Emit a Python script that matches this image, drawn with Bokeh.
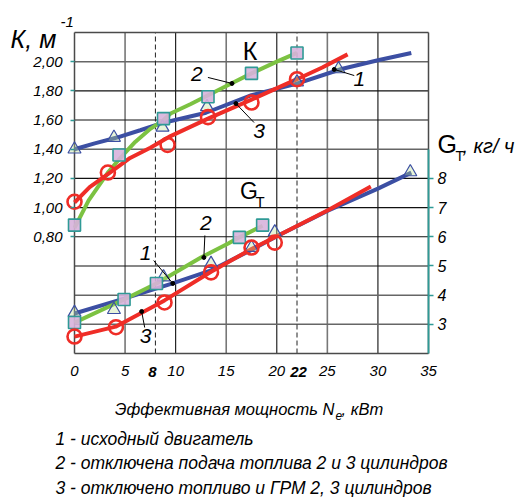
from bokeh.plotting import figure
from bokeh.models import Range1d, LinearAxis, FixedTicker, CustomJSTickFormatter, Label
from bokeh.embed import file_html
from bokeh.resources import INLINE

# ---------------- data ----------------
# K curves (left axis, 1/m)
k1_pts_x = [0, 3.9, 8.7, 13.1, 22, 26.1]
k1_pts_y = [1.40, 1.48, 1.55, 1.69, 1.86, 1.95]
k1_line_x = [0, 2, 4.2, 6.5, 8.7, 13, 17.5, 22, 26.4, 30, 33.3]
k1_line_y = [1.40, 1.44, 1.48, 1.53, 1.58, 1.65, 1.77, 1.85, 1.95, 2.01, 2.06]

k2_pts_x = [0, 4.4, 8.8, 13.2, 17.5, 22]
k2_pts_y = [0.88, 1.36, 1.61, 1.76, 1.92, 2.06]
k2_line_x = [0, 1.4, 3.3, 4.4, 6, 7.5, 8.8, 9.5, 11.5, 13.5, 15.5, 17.5, 20, 22]
k2_line_y = [0.86, 1.05, 1.24, 1.33, 1.45, 1.54, 1.60, 1.645, 1.71, 1.78, 1.85, 1.92, 2.00, 2.06]

k3_pts_x = [0, 3.3, 9.2, 13.2, 17.5, 22]
k3_pts_y = [1.04, 1.24, 1.43, 1.62, 1.72, 1.88]
k3_line_x = [0, 1.5, 3.3, 5.5, 7.5, 9.5, 13.2, 17.5, 22, 24.5, 27]
k3_line_y = [1.035, 1.14, 1.23, 1.34, 1.41, 1.49, 1.61, 1.74, 1.88, 1.96, 2.05]

# G_T curves (right axis, kg/h)
g1_pts_x = [0, 3.9, 8.8, 13.5, 17.5, 19.8, 33.2]
g1_pts_y = [3.40, 3.50, 4.62, 5.08, 5.63, 6.16, 8.22]
g1_line_x = [0, 4.9, 9.7, 13.5, 17.5, 20, 25.1, 30, 33.3]
g1_line_y = [3.37, 3.88, 4.40, 4.85, 5.55, 6.02, 6.90, 7.65, 8.20]

g2_pts_x = [0, 4.9, 8.1, 16.3, 18.6]
g2_pts_y = [3.06, 3.85, 4.40, 5.98, 6.40]
g2_line_x = [0, 4.9, 8.1, 12.5, 15.2, 16.3, 18.6]
g2_line_y = [3.06, 3.85, 4.40, 5.29, 5.77, 5.98, 6.38]

g3_pts_x = [0, 4.1, 8.9, 13.5, 17.5, 19.8]
g3_pts_y = [2.58, 2.90, 3.75, 4.78, 5.63, 5.80]
g3_line_x = [0, 4.07, 8.9, 13.5, 17.5, 20, 25.1, 29.3]
g3_line_y = [2.58, 2.92, 3.82, 4.80, 5.58, 6.02, 6.92, 7.72]

x_ticks = [0, 5, 10, 15, 20, 25, 30, 35]
x_bold_ticks = [8, 22]
k_ticks = [0.8, 1.0, 1.2, 1.4, 1.6, 1.8, 2.0]
g_ticks = [3, 4, 5, 6, 7, 8]

legend_lines = ["1 -  исходный двигатель",
                "2 -  отключена подача топлива 2 и 3 цилиндров",
                "3 -  отключено топливо и ГРМ 2, 3 цилиндров"]

# ---------------- layout ----------------
W, H = 524, 497
PL, PR, PT, PB = 74, 428, 32, 353          # plot-area box in canvas pixels
X0, X1 = 0, 35
K0, K1 = 0, 2.2
G0, G1 = 2, 13
sx = (PR - PL) / (X1 - X0)
sk = (PB - PT) / (K1 - K0)
sg = (PB - PT) / (G1 - G0)

BLUE = "#3c4fa3"
GREEN = "#7cc242"
RED = "#ef2d27"
TEAL = "#2f9a96"
FONT = "Liberation Sans"

p = figure(width=W, height=H, title=None, output_backend="svg", toolbar_location=None,
           x_range=Range1d(X0 - PL / sx, X1 + (W - PR) / sx),
           y_range=Range1d(K0 - (H - PB) / sk, K1 + PT / sk),
           min_border=0, min_border_left=0, min_border_right=0,
           min_border_top=0, min_border_bottom=0)
p.extra_y_ranges = {"g": Range1d(G0 - (H - PB) / sg, G1 + PT / sg)}
p.background_fill_color = "white"
p.border_fill_color = "white"
p.outline_line_color = None
p.xgrid.visible = False
p.ygrid.visible = False

# grid of the plot box
p.segment([5, 15, 25], K0, [5, 15, 25], K1, line_color="#777777", line_width=1.6)
p.segment([10, 20, 30], K0, [10, 20, 30], K1, line_color="#111111", line_width=1.1)
p.segment(X0, [0.2, 0.4, 1.4, 2.0], X1, [0.2, 0.4, 1.4, 2.0], line_color="#666666", line_width=1.5)
p.segment(X0, [0.6, 0.8, 1.0, 1.2, 1.6, 1.8], X1, [0.6, 0.8, 1.0, 1.2, 1.6, 1.8],
          line_color="#111111", line_width=1.1)
p.segment(x_bold_ticks, K0, x_bold_ticks, K1, line_color="#222222", line_width=1, line_dash="5 3")
# box border
p.segment([X0, X0, X1, X0], [K0, K1, K0, K0], [X1, X1, X1, X0], [K0, K1, K1, K1],
          line_color="#4a4a4a", line_width=1.5)

# axes (fixed at the box edges)
xa = p.xaxis[0]
xa.fixed_location = K0
xa.bounds = (X0, X1)
xa.ticker = FixedTicker(ticks=x_ticks)
xa.axis_line_color = None
xa.major_tick_line_color = None
xa.minor_tick_line_color = None
xa.major_tick_out = 0
xa.major_label_standoff = 12
xa.major_label_text_font = FONT
xa.major_label_text_font_style = "italic"
xa.major_label_text_font_size = "15px"
xa.major_label_text_color = "black"

ya = p.yaxis[0]
ya.fixed_location = X0
ya.bounds = (K0, K1)
ya.ticker = FixedTicker(ticks=k_ticks)
ya.formatter = CustomJSTickFormatter(code="return tick.toFixed(2).replace('.', ',');")
ya.axis_line_color = None
ya.major_tick_line_color = TEAL
ya.major_tick_line_width = 1.5
ya.major_tick_out = 4
ya.major_tick_in = 0
ya.minor_tick_line_color = None
ya.major_label_standoff = 8
ya.major_label_text_font = FONT
ya.major_label_text_font_style = "italic"
ya.major_label_text_font_size = "15px"
ya.major_label_text_color = "black"

ga = LinearAxis(y_range_name="g", ticker=FixedTicker(ticks=g_ticks), bounds=(2, 9),
                fixed_location=X1)
ga.axis_line_color = TEAL
ga.axis_line_width = 1.8
ga.major_tick_line_color = TEAL
ga.major_tick_line_width = 1.5
ga.major_tick_out = 5
ga.major_tick_in = 0
ga.minor_tick_line_color = None
ga.major_label_standoff = 4
ga.major_label_text_font = FONT
ga.major_label_text_font_style = "italic"
ga.major_label_text_font_size = "16px"
ga.major_label_text_color = "black"
p.add_layout(ga, "right")

# curves
LW = 4
p.line(k1_line_x, k1_line_y, line_color=BLUE, line_width=LW)
p.line(k2_line_x, k2_line_y, line_color=GREEN, line_width=LW)
p.line(k3_line_x, k3_line_y, line_color=RED, line_width=LW)
p.line(g1_line_x, g1_line_y, line_color=BLUE, line_width=LW, y_range_name="g")
p.line(g2_line_x, g2_line_y, line_color=GREEN, line_width=LW, y_range_name="g")
p.line(g3_line_x, g3_line_y, line_color=RED, line_width=LW, y_range_name="g")

def tri(xs, ys, rn="default"):
    p.scatter(xs, ys, marker="triangle", size=13, line_color=BLUE, line_width=1.2,
              fill_color="#b9df8f", fill_alpha=0.35, y_range_name=rn)

def sq(xs, ys, rn="default"):
    p.scatter(xs, ys, marker="square", size=12, line_color=TEAL, line_width=1.6,
              fill_color="#d7b3dc", fill_alpha=0.9, y_range_name=rn)

def circ(xs, ys, rn="default"):
    p.scatter(xs, ys, marker="circle", size=14, line_color=RED, line_width=2.6,
              fill_color=None, y_range_name=rn)

tri(k1_pts_x, k1_pts_y)
sq(k2_pts_x, k2_pts_y)
circ(k3_pts_x, k3_pts_y)
tri(g1_pts_x, g1_pts_y, "g")
sq(g2_pts_x, g2_pts_y, "g")
circ(g3_pts_x, g3_pts_y, "g")

# leader lines with dots (x0, y0 -> x1, y1), y in K units
lead_x0 = [13.19, 17.75, 27.66, 12.89, 7.83, 6.94]
lead_y0 = [1.892, 1.583, 1.905, 0.809, 0.637, 0.178]
lead_x1 = [15.57, 15.96, 25.68, 12.79, 9.72, 6.64]
lead_y1 = [1.851, 1.713, 1.947, 0.658, 0.480, 0.288]
p.segment(lead_x0, lead_y0, lead_x1, lead_y1, line_color="black", line_width=1)
p.scatter(lead_x1, lead_y1, marker="circle", size=4, fill_color="black", line_color="black")

def lab(x, y, text, size, style="italic", align="center", baseline="middle", units="data"):
    p.add_layout(Label(x=x, y=y, x_units=units, y_units=units, text=text, text_font=FONT,
                       text_font_size=f"{size}px", text_font_style=style,
                       text_align=align, text_baseline=baseline, text_color="black"))

# curve numbers
lab(12.10, 1.919, "2", 21)
lab(18.24, 1.522, "3", 21)
lab(28.16, 1.878, "1", 21)
lab(12.99, 0.891, "2", 21)
lab(7.04, 0.692, "1", 21)
lab(7.04, 0.123, "3", 21)

# in-plot group labels
lab(17.35, 2.07, "К", 25, style="normal")
lab(17.25, 1.117, "G", 23, style="normal")
lab(18.34, 1.042, "Т", 15, style="normal")

# texts around the box (canvas pixels)
C = "canvas"
lab(10, 38, "К, м", 25, align="left", units=C)
lab(60, 21, "-1", 15, align="left", units=C)

lab(437, 143, "G", 25, style="normal", align="left", units=C)
lab(455, 155, "Т", 14, style="normal", align="left", units=C)
lab(462, 145, ", кг/ ч", 20, align="left", units=C)

lab(152, 371, "8", 15, style="bold italic", units=C)
lab(298, 371, "22", 15, style="bold italic", units=C)

lab(334, 408, "Эффективная мощность N", 16.5, align="right", units=C)
lab(335, 415, "e", 12, align="left", units=C)
lab(341, 408, ", кВт", 16.5, align="left", units=C)

for i, t in enumerate(legend_lines):
    lab(55, 438 + 24.5 * i, t, 17.5, align="left", units=C)

open("out.html", "w").write(file_html(p, INLINE))
